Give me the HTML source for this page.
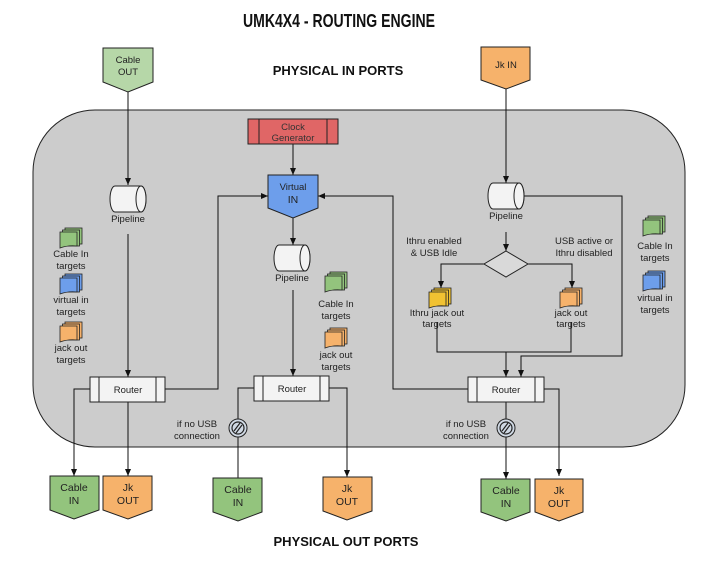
<!DOCTYPE html>
<html><head><meta charset="utf-8"><style>
html,body{margin:0;padding:0;background:#fff;}
svg{display:block;}
text{font-family:"Liberation Sans",sans-serif;font-size:9.5px;fill:#222;}
</style></head><body>
<svg width="703" height="562" viewBox="0 0 703 562" xmlns="http://www.w3.org/2000/svg">
<defs>
<marker id="a" markerWidth="8" markerHeight="8" refX="7" refY="4" orient="auto" markerUnits="userSpaceOnUse">
<path d="M0,1 L7,4 L0,7 z" fill="#111"/></marker>
<g id="stk">
<rect x="5" y="0" width="17" height="16" fill="currentColor" stroke="#222" stroke-width="0.8"/>
<rect x="2.5" y="2" width="17" height="16" fill="currentColor" stroke="#222" stroke-width="0.8"/>
<path d="M0,4 H17 V18 Q8,17 0,20 Z" fill="currentColor" stroke="#222" stroke-width="0.8"/>
</g>
<g id="usb">
<circle r="9" fill="#cfd8e3" stroke="#222" stroke-width="1"/>
<circle r="6" fill="none" stroke="#222" stroke-width="1.2"/>
<path d="M-4,3 L2,-5 M-2,5 L4,-3" stroke="#222" stroke-width="1.2"/>
</g>
</defs>
<text x="243" y="27" textLength="192" lengthAdjust="spacingAndGlyphs" style="font-family:'Liberation Sans Narrow','Liberation Sans',sans-serif;font-weight:bold;font-size:18px;fill:#111">UMK4X4 - ROUTING ENGINE</text>
<text x="338" y="75" text-anchor="middle" style="font-weight:bold;font-size:13px;fill:#111">PHYSICAL IN PORTS</text>
<text x="346" y="546" text-anchor="middle" style="font-weight:bold;font-size:13px;fill:#111">PHYSICAL OUT PORTS</text>

<rect x="33" y="110" width="652" height="337" rx="62" fill="#cccccc" stroke="#222" stroke-width="1"/>

<path d="M103,48 H153 V82 L128,92 L103,82 Z" fill="#b6d7a8" stroke="#222"/>
<text x="128" y="63" text-anchor="middle">Cable</text><text x="128" y="75" text-anchor="middle">OUT</text>
<path d="M481,47 H530 V80 L506,89 L481,80 Z" fill="#f6b26b" stroke="#222"/>
<text x="506" y="68" text-anchor="middle">Jk IN</text>

<g fill="none" stroke="#111" stroke-width="1">
<path d="M128,92 V185" marker-end="url(#a)"/>
<path d="M128,234 V377" marker-end="url(#a)"/>
<path d="M506,89 V183" marker-end="url(#a)"/>
<path d="M293,144 V175" marker-end="url(#a)"/>
<path d="M293,218 V245" marker-end="url(#a)"/>
<path d="M293,290 V376" marker-end="url(#a)"/>
<path d="M165,389 H218 V196 H268" marker-end="url(#a)"/>
<path d="M468,389 H393 V196 H318" marker-end="url(#a)"/>
<path d="M524,196 H622 V356 H521 V377" marker-end="url(#a)"/>
<path d="M506,232 V251" marker-end="url(#a)"/>
<path d="M484,264 H441 V288" marker-end="url(#a)"/>
<path d="M528,264 H572 V288" marker-end="url(#a)"/>
<path d="M437,322 V352 H571 V322"/>
<path d="M506,352 V377" marker-end="url(#a)"/>
<path d="M90,389 H74 V476" marker-end="url(#a)"/>
<path d="M128,402 V476" marker-end="url(#a)"/>
<path d="M254,388 H238 V478"/>
<path d="M329,388 H347 V477" marker-end="url(#a)"/>
<path d="M506,402 V479" marker-end="url(#a)"/>
<path d="M544,389 H559 V476" marker-end="url(#a)"/>
</g>

<rect x="248" y="119" width="90" height="25" fill="#e06666" stroke="#222"/>
<path d="M259,119 V144 M327,119 V144" stroke="#222"/>
<text x="293" y="130" text-anchor="middle" style="fill:#333">Clock</text><text x="293" y="141" text-anchor="middle" style="fill:#333">Generator</text>
<path d="M268,175 H318 V208 L293,218 L268,208 Z" fill="#6d9eeb" stroke="#222"/>
<text x="293" y="190" text-anchor="middle">Virtual</text><text x="293" y="203" text-anchor="middle" style="font-size:10.5px">IN</text>

<g fill="#f3f3f3" stroke="#222" stroke-width="1">
<path d="M115,186 H141 A5,13 0 0 1 141,212 H115 A5,13 0 0 1 115,186 Z"/><ellipse cx="141" cy="199" rx="5" ry="13"/>
<path d="M279,245 H305 A5,13 0 0 1 305,271 H279 A5,13 0 0 1 279,245 Z"/><ellipse cx="305" cy="258" rx="5" ry="13"/>
<path d="M493,183 H519 A5,13 0 0 1 519,209 H493 A5,13 0 0 1 493,183 Z"/><ellipse cx="519" cy="196" rx="5" ry="13"/>
</g>
<text x="128" y="222" text-anchor="middle">Pipeline</text>
<text x="292" y="281" text-anchor="middle">Pipeline</text>
<text x="506" y="219" text-anchor="middle">Pipeline</text>

<path d="M506,251 L528,264 L506,277 L484,264 Z" fill="#d9d9d9" stroke="#222"/>
<text x="434" y="244" text-anchor="middle">Ithru enabled</text><text x="434" y="256" text-anchor="middle">&amp; USB Idle</text>
<text x="584" y="244" text-anchor="middle">USB active or</text><text x="584" y="256" text-anchor="middle">Ithru disabled</text>

<use href="#stk" x="60" y="228" style="color:#93c47d"/>
<text x="71" y="257" text-anchor="middle">Cable In</text><text x="71" y="269" text-anchor="middle">targets</text>
<use href="#stk" x="60" y="274" style="color:#6d9eeb"/>
<text x="71" y="303" text-anchor="middle">virtual in</text><text x="71" y="315" text-anchor="middle">targets</text>
<use href="#stk" x="60" y="322" style="color:#f6b26b"/>
<text x="71" y="351" text-anchor="middle">jack out</text><text x="71" y="363" text-anchor="middle">targets</text>

<use href="#stk" x="325" y="272" style="color:#93c47d"/>
<text x="336" y="307" text-anchor="middle">Cable In</text><text x="336" y="319" text-anchor="middle">targets</text>
<use href="#stk" x="325" y="328" style="color:#f6b26b"/>
<text x="336" y="358" text-anchor="middle">jack out</text><text x="336" y="370" text-anchor="middle">targets</text>

<use href="#stk" x="643" y="216" style="color:#93c47d"/>
<text x="655" y="249" text-anchor="middle">Cable In</text><text x="655" y="261" text-anchor="middle">targets</text>
<use href="#stk" x="643" y="271" style="color:#6d9eeb"/>
<text x="655" y="301" text-anchor="middle">virtual in</text><text x="655" y="313" text-anchor="middle">targets</text>

<use href="#stk" x="429" y="288" style="color:#f1c232"/>
<text x="437" y="316" text-anchor="middle">Ithru jack out</text><text x="437" y="327" text-anchor="middle">targets</text>
<use href="#stk" x="560" y="288" style="color:#f6b26b"/>
<text x="571" y="316" text-anchor="middle">jack out</text><text x="571" y="327" text-anchor="middle">targets</text>

<g fill="#f3f3f3" stroke="#222">
<rect x="90" y="377" width="75" height="25"/><path d="M99,377 V402 M156,377 V402"/>
<rect x="254" y="376" width="75" height="25"/><path d="M263,376 V401 M320,376 V401"/>
<rect x="468" y="377" width="76" height="25"/><path d="M477,377 V402 M535,377 V402"/>
</g>
<text x="128" y="393" text-anchor="middle">Router</text>
<text x="292" y="392" text-anchor="middle">Router</text>
<text x="506" y="393" text-anchor="middle">Router</text>

<use href="#usb" x="238" y="428"/>
<use href="#usb" x="506" y="428"/>
<text x="197" y="427" text-anchor="middle">if no USB</text><text x="197" y="439" text-anchor="middle">connection</text>
<text x="466" y="427" text-anchor="middle">if no USB</text><text x="466" y="439" text-anchor="middle">connection</text>

<g stroke="#222">
<path d="M50,476 H99 V510 L74,519 L50,510 Z" fill="#93c47d"/>
<path d="M103,476 H152 V510 L128,519 L103,510 Z" fill="#f6b26b"/>
<path d="M213,478 H262 V512 L238,521 L213,512 Z" fill="#93c47d"/>
<path d="M323,477 H372 V511 L347,520 L323,511 Z" fill="#f6b26b"/>
<path d="M481,479 H530 V512 L506,521 L481,512 Z" fill="#93c47d"/>
<path d="M535,479 H583 V512 L559,521 L535,512 Z" fill="#f6b26b"/>
</g>
<text x="74" y="491" text-anchor="middle" style="font-size:10.5px">Cable</text><text x="74" y="504" text-anchor="middle" style="font-size:10.5px">IN</text>
<text x="128" y="491" text-anchor="middle" style="font-size:10.5px">Jk</text><text x="128" y="504" text-anchor="middle" style="font-size:10.5px">OUT</text>
<text x="238" y="493" text-anchor="middle" style="font-size:10.5px">Cable</text><text x="238" y="506" text-anchor="middle" style="font-size:10.5px">IN</text>
<text x="347" y="492" text-anchor="middle" style="font-size:10.5px">Jk</text><text x="347" y="505" text-anchor="middle" style="font-size:10.5px">OUT</text>
<text x="506" y="494" text-anchor="middle" style="font-size:10.5px">Cable</text><text x="506" y="507" text-anchor="middle" style="font-size:10.5px">IN</text>
<text x="559" y="494" text-anchor="middle" style="font-size:10.5px">Jk</text><text x="559" y="507" text-anchor="middle" style="font-size:10.5px">OUT</text>
</svg>
</body></html>
